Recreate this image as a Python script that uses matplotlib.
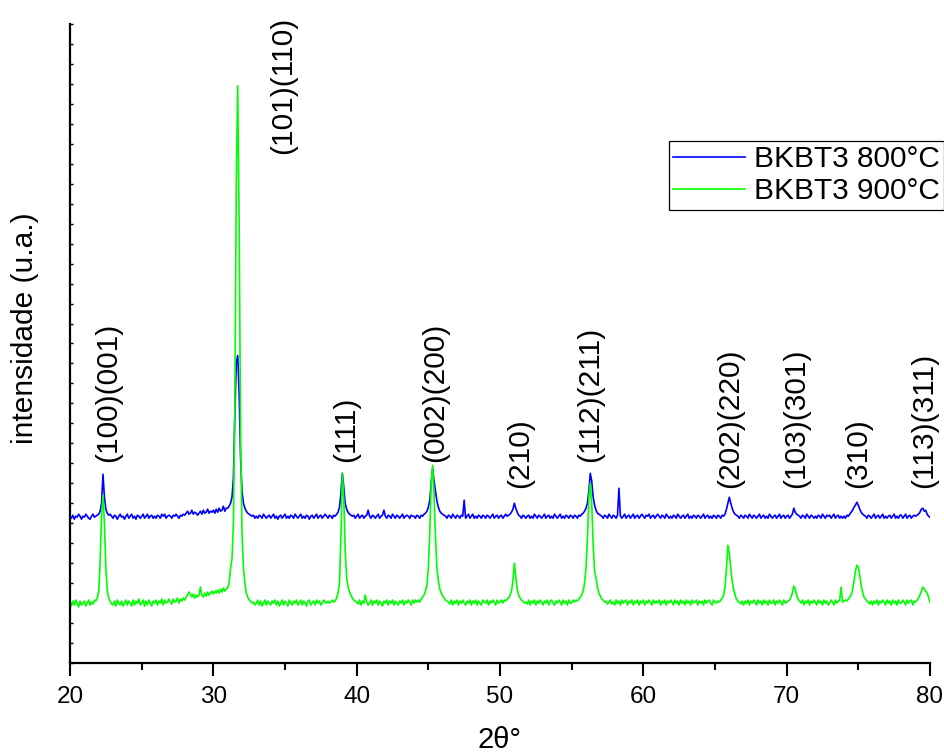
import matplotlib
matplotlib.use("Agg")
import matplotlib.pyplot as plt
import numpy as np

plt.rcParams["font.family"] = ["Liberation Sans", "DejaVu Sans"]

# scan grid, 20-80 deg in 0.1 deg steps
two_theta = np.linspace(20, 80, 601)

# BKBT3 800 C (arbitrary units), one row per degree
bkbt3_800 = [
    147, 145, 148, 144, 147, 146, 149, 147, 144, 147,
    146, 149, 147, 145, 144, 147, 149, 146, 147, 148,
    149, 152, 160, 189, 166, 154, 150, 148, 149, 147,
    145, 148, 147, 144, 147, 149, 146, 147, 144, 147,
    149, 145, 147, 149, 145, 147, 144, 148, 147, 145,
    147, 149, 145, 147, 149, 145, 147, 148, 145, 147,
    145, 148, 147, 145, 149, 147, 149, 145, 147, 148,
    147, 145, 148, 147, 149, 147, 145, 148, 147, 149,
    148, 150, 152, 149, 150, 153, 149, 151, 150, 148,
    150, 152, 149, 153, 150, 151, 154, 150, 152, 151,
    153, 150, 154, 151, 155, 152, 153, 157, 152, 155,
    155, 157, 160, 166, 185, 250, 300, 308, 270, 205,
    172, 160, 155, 152, 150, 149, 148, 147, 148, 145,
    147, 145, 148, 147, 145, 149, 147, 145, 147, 148,
    145, 147, 149, 145, 147, 144, 147, 148, 145, 147,
    149, 145, 147, 145, 148, 147, 145, 149, 147, 145,
    147, 149, 145, 147, 145, 148, 147, 144, 147, 148,
    145, 147, 149, 145, 147, 148, 145, 147, 149, 147,
    145, 148, 147, 145, 148, 147, 149, 151, 156, 170,
    190, 176, 160, 154, 151, 149, 148, 147, 148, 145,
    147, 149, 145, 147, 148, 145, 147, 148, 153, 147,
    145, 148, 147, 145, 147, 149, 145, 147, 148, 153,
    147, 145, 148, 147, 145, 149, 147, 145, 148, 147,
    145, 147, 149, 145, 147, 148, 147, 145, 148, 147,
    147, 145, 148, 147, 145, 148, 147, 149, 150, 152,
    156, 163, 180, 195, 182, 172, 162, 156, 152, 150,
    149, 148, 147, 145, 148, 147, 145, 149, 147, 145,
    148, 147, 145, 148, 147, 163, 145, 147, 149, 145,
    147, 149, 145, 147, 145, 148, 147, 145, 148, 147,
    145, 148, 147, 145, 147, 149, 145, 147, 148, 145,
    147, 148, 145, 147, 149, 147, 148, 149, 151, 154,
    160, 155, 151, 148, 147, 145, 148, 147, 145, 147,
    148, 145, 147, 145, 149, 147, 145, 148, 147, 145,
    147, 149, 145, 147, 148, 145, 147, 145, 149, 147,
    145, 147, 149, 145, 147, 145, 148, 147, 145, 148,
    147, 145, 148, 147, 145, 148, 147, 149, 150, 152,
    155, 160, 172, 190, 182, 166, 158, 153, 150, 149,
    148, 147, 145, 148, 147, 145, 149, 147, 145, 148,
    147, 145, 148, 175, 147, 145, 147, 149, 145, 147,
    148, 145, 147, 149, 145, 147, 148, 145, 147, 149,
    147, 145, 148, 147, 149, 145, 147, 148, 145, 147,
    149, 147, 145, 148, 147, 145, 149, 147, 145, 147,
    145, 148, 147, 145, 149, 147, 145, 147, 148, 145,
    147, 149, 145, 147, 145, 148, 147, 145, 148, 147,
    145, 147, 149, 145, 147, 148, 145, 147, 145, 148,
    147, 145, 148, 147, 145, 148, 147, 149, 154, 160,
    166, 160, 155, 151, 149, 148, 147, 145, 148, 147,
    145, 148, 147, 145, 149, 147, 145, 148, 147, 145,
    147, 149, 145, 147, 148, 145, 147, 145, 149, 147,
    145, 147, 148, 145, 147, 149, 145, 147, 148, 145,
    147, 148, 145, 147, 149, 155, 151, 149, 148, 147,
    145, 148, 147, 145, 149, 147, 145, 148, 147, 145,
    147, 145, 148, 147, 145, 149, 147, 145, 148, 147,
    148, 145, 147, 149, 145, 147, 148, 145, 147, 145,
    147, 145, 148, 147, 149, 151, 153, 156, 158, 161,
    158, 154, 151, 149, 148, 147, 145, 148, 147, 145,
    147, 149, 145, 147, 148, 145, 147, 149, 145, 147,
    145, 147, 148, 145, 147, 149, 145, 147, 145, 148,
    148, 145, 147, 149, 145, 147, 148, 145, 147, 148,
    147, 148, 149, 151, 154, 155, 152, 153, 149, 147,
    146,
]

# BKBT3 900 C
bkbt3_900 = [
    60, 57, 62, 58, 63, 60, 56, 62, 58, 60,
    62, 57, 60, 63, 58, 61, 59, 63, 62, 65,
    72, 100, 148, 168, 140, 95, 72, 65, 62, 59,
    58, 62, 57, 63, 60, 58, 62, 57, 60, 63,
    58, 62, 60, 57, 63, 58, 62, 60, 64, 58,
    60, 63, 57, 62, 58, 63, 60, 57, 62, 60,
    63, 58, 62, 60, 64, 58, 63, 60, 61, 64,
    61, 59, 64, 61, 62, 65, 60, 64, 62, 65,
    63, 66, 68, 71, 69, 66, 69, 65, 68, 66,
    68, 76, 68, 66, 70, 67, 71, 68, 70, 72,
    69, 72, 70, 73, 70, 74, 71, 75, 72, 74,
    75, 80, 95, 104, 140, 260, 480, 578, 440, 230,
    130, 95, 80, 70, 66, 63, 62, 60, 61, 58,
    60, 63, 58, 62, 57, 60, 63, 58, 62, 60,
    58, 62, 60, 63, 58, 62, 57, 60, 63, 58,
    62, 60, 57, 63, 60, 58, 62, 60, 63, 58,
    60, 63, 58, 62, 60, 57, 62, 63, 58, 60,
    62, 58, 63, 60, 62, 58, 60, 63, 61, 60,
    62, 60, 61, 63, 61, 62, 65, 70, 80, 125,
    190, 165, 112, 86, 76, 71, 68, 65, 63, 62,
    61, 59, 63, 58, 62, 60, 68, 61, 58, 60,
    63, 58, 62, 60, 63, 58, 62, 60, 57, 62,
    60, 63, 58, 62, 60, 63, 58, 62, 60, 58,
    62, 60, 63, 58, 62, 60, 63, 61, 58, 63,
    60, 63, 61, 63, 61, 64, 66, 68, 72, 78,
    95, 130, 180, 198, 168, 125, 95, 82, 74, 70,
    67, 65, 63, 62, 61, 59, 63, 58, 62, 60,
    63, 58, 62, 60, 63, 60, 58, 62, 60, 63,
    58, 62, 60, 63, 58, 62, 60, 58, 63, 61,
    60, 63, 58, 62, 60, 63, 61, 58, 63, 60,
    61, 63, 60, 63, 62, 64, 65, 68, 72, 82,
    100, 86, 74, 68, 65, 63, 62, 60, 61, 59,
    63, 58, 62, 60, 63, 58, 62, 60, 63, 61,
    58, 62, 60, 63, 58, 62, 63, 60, 58, 62,
    60, 63, 61, 58, 63, 60, 62, 58, 63, 60,
    60, 63, 61, 63, 62, 64, 66, 68, 72, 80,
    95, 125, 165, 180, 160, 118, 92, 85, 76, 70,
    67, 64, 63, 61, 62, 59, 61, 63, 59, 61,
    58, 63, 60, 62, 58, 63, 60, 62, 63, 58,
    62, 60, 63, 58, 62, 60, 63, 58, 62, 60,
    63, 58, 62, 60, 63, 61, 58, 63, 60, 62,
    60, 63, 58, 62, 60, 63, 58, 62, 60, 63,
    61, 58, 63, 60, 62, 58, 63, 60, 62, 58,
    63, 60, 62, 58, 63, 60, 61, 63, 58, 62,
    60, 62, 58, 63, 60, 62, 63, 60, 58, 63,
    61, 60, 62, 61, 63, 65, 68, 76, 95, 118,
    110, 95, 82, 74, 68, 64, 62, 61, 59, 62,
    58, 62, 60, 63, 58, 62, 60, 63, 61, 58,
    63, 60, 62, 58, 63, 60, 62, 58, 63, 60,
    60, 63, 58, 62, 60, 63, 61, 58, 63, 60,
    61, 62, 63, 66, 70, 77, 74, 68, 64, 62,
    60, 63, 58, 62, 60, 63, 58, 62, 60, 63,
    61, 58, 63, 60, 62, 58, 63, 60, 62, 58,
    60, 63, 61, 58, 63, 60, 62, 63, 76, 61,
    62, 63, 62, 64, 66, 68, 73, 82, 92, 98,
    96, 88, 78, 71, 66, 64, 62, 61, 59, 62,
    58, 62, 60, 63, 58, 62, 60, 63, 61, 58,
    63, 60, 62, 58, 63, 60, 62, 58, 63, 60,
    60, 63, 61, 58, 63, 60, 62, 63, 58, 62,
    61, 63, 65, 68, 72, 76, 74, 72, 70, 66,
    61,
]

series_names = ["BKBT3 800°C", "BKBT3 900°C"]
series_colors = ["#0000ff", "#00ff00"]

hkl_labels = ["(100)(001)", "(101)(110)", "(111)", "(002)(200)", "(210)",
              "(112)(211)", "(202)(220)", "(103)(301)", "(310)", "(113)(311)"]
hkl_x = [22.65, 34.85, 39.25, 45.45, 51.4, 56.3, 66.05, 70.65, 75.0, 79.6]
hkl_y = [201, 510, 201, 201, 175, 201, 175, 175, 175, 175]

fig = plt.figure(figsize=(9.45, 7.52), dpi=100)
ax = fig.add_axes([0.0741, 0.1184, 0.910, 0.8497])

for values, name, color in zip([bkbt3_800, bkbt3_900], series_names, series_colors):
    ax.plot(two_theta, values, color=color, lw=1.2, label=name)

for text, x, y in zip(hkl_labels, hkl_x, hkl_y):
    ax.text(x, y, text, rotation=90, ha="center", va="bottom", fontsize=21.5)

ax.set_xlim(20, 80)
ax.set_ylim(0, 640)
ax.set_xticks(np.arange(20, 81, 10))
ax.set_xticks(np.arange(25, 80, 10), minor=True)
ax.set_yticks(np.arange(0, 641, 20))
ax.tick_params(axis="x", which="major", direction="out", length=9.5, width=1.5,
               labelsize=17.5, pad=7)
ax.tick_params(axis="x", which="minor", direction="out", length=5, width=1.5)
ax.tick_params(axis="y", direction="in", length=2.5, width=1, labelleft=False)

for side in ("top", "right"):
    ax.spines[side].set_visible(False)
for side in ("left", "bottom"):
    ax.spines[side].set_linewidth(1.6)

ax.set_xlabel("2θ°", fontsize=21)
ax.xaxis.set_label_coords(0.5, -0.098)
ax.set_ylabel("intensidade (u.a.)", fontsize=21.5)
ax.yaxis.set_label_coords(-0.036, 0.524)

leg = ax.legend(loc="upper left", bbox_to_anchor=(669 / 945, 1 - 141 / 752),
                bbox_transform=fig.transFigure, fontsize=21.5, frameon=True,
                fancybox=False, framealpha=1, edgecolor="black",
                borderaxespad=0, borderpad=0.15, labelspacing=0.12,
                handlelength=2.4, handletextpad=0.3)
leg.get_frame().set_linewidth(0.9)

fig.savefig("out.png", dpi=100)
